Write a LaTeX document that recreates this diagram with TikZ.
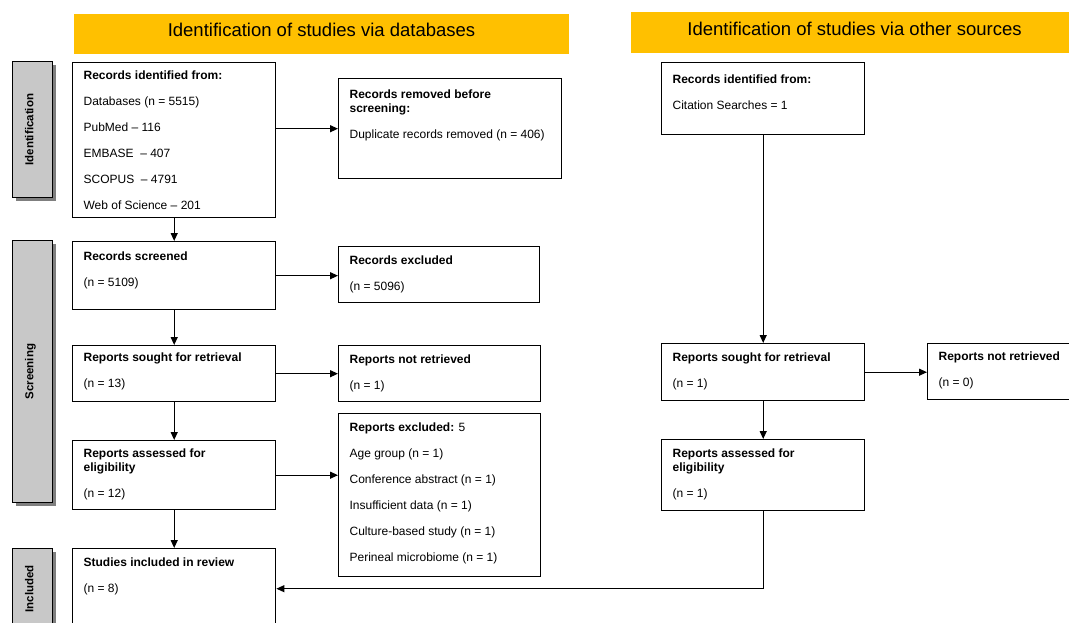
\documentclass[tikz,border=0pt]{standalone}
\usepackage{fontspec}
\setmainfont{Liberation Sans}
\usepackage{xcolor}
\usetikzlibrary{arrows.meta,shadows}

\definecolor{bandyellow}{HTML}{FFC000}
\definecolor{stagegray}{HTML}{C8C8C8}
\definecolor{shadowgray}{HTML}{7F7F7F}

\tikzset{
  box/.style={draw, line width=1.4pt, anchor=north west, inner sep=0pt},
  txt/.style={anchor=north west, align=left, inner sep=0pt, font=\fontsize{12}{14}\selectfont},
  band/.style={fill=bandyellow, inner sep=0pt, text depth=8pt, font=\fontsize{18.5}{20}\selectfont},
  stage/.style={draw, line width=1.4pt, fill=stagegray, anchor=north west, inner sep=0pt,
    minimum width=40pt, font=\fontsize{11.5}{13}\selectfont\bfseries,
    drop shadow={shadow xshift=3pt, shadow yshift=-3pt, fill=shadowgray, opacity=1}},
  >={Triangle[length=8pt,width=7pt]}
}

\begin{document}
\begin{tikzpicture}[x=1pt, y=-1pt, line width=1.2pt]

\useasboundingbox (0,0) rectangle (1069,623);
\clip (0,0) rectangle (1069,623);

% Draw header bands
\node[band, minimum width=495pt, minimum height=40pt] (dbhead) at (321.5,34) {Identification of studies via databases};
\node[band, minimum width=447pt, minimum height=41pt] (otherhead) at (854.5,32.5) {Identification of studies via other sources};

% Draw stage labels on the left
\node[stage, minimum height=136pt] (idstage) at (12,61) {\rotatebox{90}{\raisebox{0pt}[\height][7pt]{Identification}}};
\node[stage, minimum height=262pt] (scrstage) at (12,240) {\rotatebox{90}{\raisebox{0pt}[\height][7pt]{Screening}}};
\node[stage, minimum height=80pt] (incstage) at (12,548) {\rotatebox{90}{\raisebox{0pt}[\height][7pt]{Included}}};

% Draw boxes for databases
\node[box, minimum width=203pt, minimum height=155pt] (recdb) at (72,62) {};
\node[box, minimum width=223pt, minimum height=100pt] (removed) at (338,78) {};
\node[box, minimum width=203pt, minimum height=68pt] (screened) at (72,241) {};
\node[box, minimum width=201pt, minimum height=56pt] (excluded) at (338,246) {};
\node[box, minimum width=203pt, minimum height=56pt] (sought) at (72,345) {};
\node[box, minimum width=202pt, minimum height=56pt] (notret) at (338,345) {};
\node[box, minimum width=203pt, minimum height=69pt] (assessed) at (72,440) {};
\node[box, minimum width=202pt, minimum height=163pt] (repexcl) at (338,413) {};
\node[box, minimum width=203pt, minimum height=80pt] (included) at (72,548) {};

% Draw boxes for other sources
\node[box, minimum width=203pt, minimum height=72pt] (recother) at (661,62) {};
\node[box, minimum width=203pt, minimum height=57pt] (sought2) at (661,343) {};
\node[box, minimum width=160pt, minimum height=56pt] (notret2) at (927,343) {};
\node[box, minimum width=203pt, minimum height=71pt] (assessed2) at (661,439) {};

% Add texts in database boxes
\node[txt] (recdb-t) at (83,70.5) {\textbf{Records identified from:}\\[12pt]
  Databases (n = 5515)\\[12pt] PubMed – 116\\[12pt] EMBASE \ – 407\\[12pt]
  SCOPUS \ – 4791\\[12pt] Web of Science – 201};
\node[txt] (removed-t) at (349,89.5) {\textbf{Records removed before}\\ \textbf{screening:}\\[12pt]
  Duplicate records removed (n = 406)};
\node[txt] (screened-t) at (83,251.5) {\textbf{Records screened}\\[12pt] (n = 5109)};
\node[txt] (excluded-t) at (349,255.5) {\textbf{Records excluded}\\[12pt] (n = 5096)};
\node[txt] (sought-t) at (83,352.5) {\textbf{Reports sought for retrieval}\\[12pt] (n = 13)};
\node[txt] (notret-t) at (349,354.5) {\textbf{Reports not retrieved}\\[12pt] (n = 1)};
\node[txt] (assessed-t) at (83,448.5) {\textbf{Reports assessed for}\\ \textbf{eligibility}\\[12pt] (n = 12)};
\node[txt] (repexcl-t) at (349,422.5) {\textbf{Reports excluded:} 5\\[12pt]
  Age group (n = 1)\\[12pt] Conference abstract (n = 1)\\[12pt]
  Insufficient data (n = 1)\\[12pt] Culture-based study (n = 1)\\[12pt]
  Perineal microbiome (n = 1)};
\node[txt] (included-t) at (83,557.5) {\textbf{Studies included in review}\\[12pt] (n = 8)};

% Add texts in other sources boxes
\node[txt] (recother-t) at (672,74.5) {\textbf{Records identified from:}\\[12pt] Citation Searches = 1};
\node[txt] (sought2-t) at (672,352.5) {\textbf{Reports sought for retrieval}\\[12pt] (n = 1)};
\node[txt] (notret2-t) at (938,351.5) {\textbf{Reports not retrieved}\\[12pt] (n = 0)};
\node[txt] (assessed2-t) at (672,448.5) {\textbf{Reports assessed for}\\ \textbf{eligibility}\\[12pt] (n = 1)};

% Draw arrows for databases
\draw[->] (recdb.east |- removed.west) -- (removed.west);
\draw[->] (recdb) -- (screened);
\draw[->] (screened.east) -- (screened.east -| excluded.west);
\draw[->] (screened) -- (sought);
\draw[->] (sought.east) -- (sought.east -| notret.west);
\draw[->] (sought) -- (assessed);
\draw[->] (assessed.east) -- (assessed.east -| repexcl.west);
\draw[->] (assessed) -- (included);

% Draw arrows for other sources
\draw[->] (recother) -- (sought2);
\draw[->] (sought2.east) -- (sought2.east -| notret2.west);
\draw[->] (sought2) -- (assessed2);
\draw[->] (assessed2.south) |- (included.east);
\end{tikzpicture}
\end{document}
